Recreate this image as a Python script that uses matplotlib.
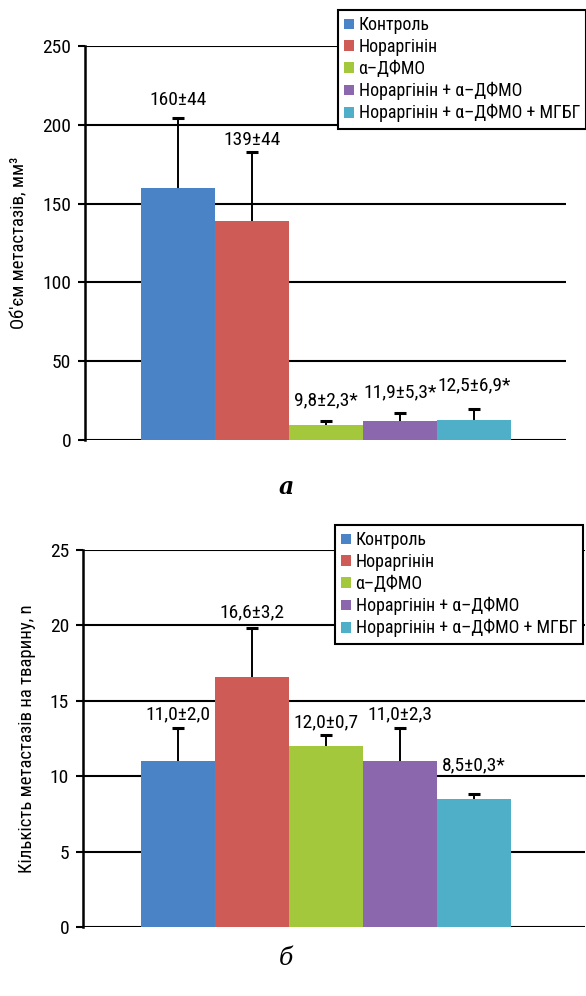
import matplotlib
matplotlib.use("Agg")
import matplotlib.pyplot as plt
from matplotlib.patches import Patch

plt.rcParams['font.family'] = ['Roboto Condensed', 'Liberation Sans Narrow',
                               'Roboto', 'DejaVu Sans']

groups = ["Контроль", "Нораргінін", "α–ДФМО", "Нораргінін + α–ДФМО",
          "Нораргінін + α–ДФМО + МГБГ"]
colors = ["#4A84C6", "#CF5B57", "#A3C83C", "#8B67AD", "#4FAEC8"]

vol_mean = [160, 139, 9.8, 11.9, 12.5]
vol_err = [44, 44, 2.3, 5.3, 6.9]
vol_labels = ["160±44", "139±44", "9,8±2,3*", "11,9±5,3*", "12,5±6,9*"]
vol_ticks = [0, 50, 100, 150, 200, 250]

cnt_mean = [11.0, 16.6, 12.0, 11.0, 8.5]
cnt_err = [2.2, 3.2, 0.7, 2.2, 0.3]
cnt_labels = ["11,0±2,0", "16,6±3,2", "12,0±0,7", "11,0±2,3", "8,5±0,3*"]
cnt_ticks = [0, 5, 10, 15, 20, 25]

# label offsets above error caps (points)
vol_label_dy = [13, 8, 15, 15, 17]
cnt_label_dy = [9.5, 11.5, 9.5, 9.5, 21]

W, H = 586, 996
fig = plt.figure(figsize=(W / 100, H / 100), dpi=100)


def panel(rect, means, errs, labels, dys, ticks, ylabel, xlim, legend_xy):
    ax = fig.add_axes(rect)
    x = list(range(len(means)))
    tops = [m + e for m, e in zip(means, errs)]
    ax.bar(x, means, width=1.0, color=colors, zorder=3)
    ax.vlines(x, means, tops, colors='black', linewidth=1.4, zorder=4)
    ax.plot(x, tops, linestyle='none', marker='_', markersize=8,
            markeredgewidth=2.2, color='black', zorder=4)
    for xi, t, lab, dy in zip(x, tops, labels, dys):
        ax.annotate(lab, (xi, t), xytext=(0, dy), textcoords='offset points',
                    ha='center', va='center', fontsize=14, zorder=5)
    ax.set_xlim(*xlim)
    ax.set_ylim(ticks[0], ticks[-1])
    ax.set_yticks(ticks)
    ax.set_xticks([])
    ax.yaxis.grid(True, color='black', linewidth=1.5, zorder=1)
    ax.set_axisbelow(True)
    for s in ['top', 'right', 'bottom']:
        ax.spines[s].set_visible(False)
    ax.spines['left'].set_linewidth(1.8)
    ax.tick_params(axis='y', length=5, width=1.5, labelsize=14, pad=5)
    ax.set_ylabel(ylabel, fontsize=13.5, labelpad=10)
    handles = [Patch(facecolor=c, edgecolor='none') for c in colors]
    leg = fig.legend(handles, groups, loc='upper left',
                     bbox_to_anchor=legend_xy,
                     prop={'size': 12.9},
                     handlelength=0.55, handleheight=0.55, handletextpad=0.25,
                     labelspacing=0.22, borderpad=0.35, borderaxespad=0,
                     fancybox=False, frameon=True)
    fr = leg.get_frame()
    fr.set_edgecolor('black')
    fr.set_linewidth(1.5)
    fr.set_alpha(1)
    return ax


panel([85 / W, 1 - 440 / H, (566 - 85) / W, (440 - 46) / H],
      vol_mean, vol_err, vol_labels, vol_label_dy, vol_ticks,
      "Об'єм метастазів, мм³", (-1.263, 5.243), (338 / W, 1 - 10 / H))

panel([83 / W, 1 - 927 / H, (585 - 83) / W, (927 - 550) / H],
      cnt_mean, cnt_err, cnt_labels, cnt_label_dy, cnt_ticks,
      "Кількість метастазів на тварину, n", (-1.29, 5.5), (335 / W, 1 - 525 / H))

fig.text(286 / W, 1 - 487 / H, "a", fontsize=17, family='DejaVu Serif',
         style='italic', weight='bold', ha='center', va='center')
fig.text(286 / W, 1 - 958 / H, "б", fontsize=17, family='DejaVu Serif',
         style='italic', ha='center', va='center')

fig.savefig("out.png", dpi=100)
